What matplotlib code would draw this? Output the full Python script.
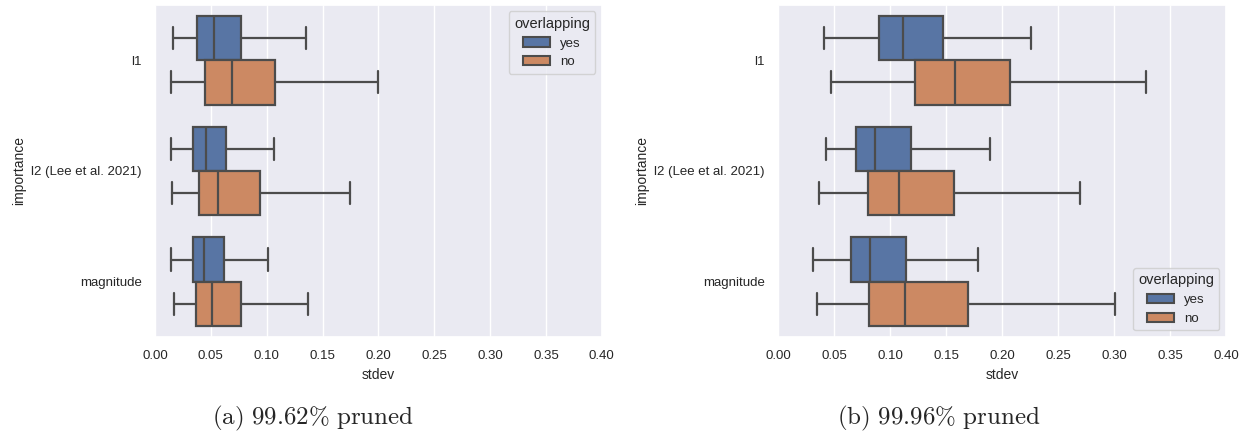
import matplotlib
matplotlib.use("Agg")
import matplotlib.pyplot as plt
import matplotlib.patches as mpatches
import seaborn as sns

sns.set_theme(style="darkgrid")
plt.rcParams['font.family'] = ['Liberation Sans', 'DejaVu Sans']
plt.rcParams['mathtext.fontset'] = 'cm'

categories = ["l1", "l2 (Lee et al. 2021)", "magnitude"]
hues = ["yes", "no"]
colors = ["#5875a4", "#cc8963"]
line_gray = "#4c4c4c"

# five-number summaries per category: (whislo, q1, med, q3, whishi)
a_yes = [(0.0161, 0.0379, 0.0528, 0.0770, 0.1351),
         (0.0140, 0.0340, 0.0456, 0.0635, 0.1068),
         (0.0140, 0.0340, 0.0442, 0.0617, 0.1008)]
a_no = [(0.0146, 0.0450, 0.0692, 0.1077, 0.1996),
        (0.0155, 0.0397, 0.0567, 0.0940, 0.1745),
        (0.0170, 0.0370, 0.0513, 0.0770, 0.1366)]
b_yes = [(0.0411, 0.0903, 0.1114, 0.1472, 0.2258),
         (0.0429, 0.0692, 0.0862, 0.1185, 0.1896),
         (0.0313, 0.0648, 0.0820, 0.1143, 0.1787)]
b_no = [(0.0476, 0.1223, 0.1579, 0.2068, 0.3287),
        (0.0363, 0.0805, 0.1081, 0.1570, 0.2700),
        (0.0345, 0.0811, 0.1137, 0.1692, 0.3006)]

xticks = [0.0, 0.05, 0.10, 0.15, 0.20, 0.25, 0.30, 0.35, 0.40]
captions = [r"$\mathrm{(a)\ 99.62\%\ pruned}$", r"$\mathrm{(b)\ 99.96\%\ pruned}$"]


def to_stats(rows):
    return [dict(whislo=r[0], q1=r[1], med=r[2], q3=r[3], whishi=r[4], fliers=[]) for r in rows]


def draw_panel(ax, yes, no, legend_loc):
    for k, (rows, col) in enumerate(zip([yes, no], colors)):
        pos = [i - 0.2 + 0.4 * k for i in range(len(categories))]
        ax.bxp(to_stats(rows), positions=pos, widths=0.4, vert=False,
               patch_artist=True, showfliers=False,
               boxprops=dict(facecolor=col, edgecolor=line_gray, linewidth=1.6),
               medianprops=dict(color=line_gray, linewidth=1.6),
               whiskerprops=dict(color=line_gray, linewidth=1.6),
               capprops=dict(color=line_gray, linewidth=1.6))
    ax.set_yticks(range(len(categories)))
    ax.set_yticklabels(categories)
    ax.set_ylim(2.5, -0.5)
    ax.set_xlim(0, 0.4)
    ax.set_xticks(xticks)
    ax.set_xticklabels([f"{t:.2f}" for t in xticks])
    ax.yaxis.grid(False)
    ax.set_xlabel("stdev", fontsize=10)
    ax.set_ylabel("importance", fontsize=10)
    ax.tick_params(labelsize=9.5)
    handles = [mpatches.Patch(facecolor=c, edgecolor=line_gray, linewidth=1.5, label=h)
               for h, c in zip(hues, colors)]
    ax.legend(handles=handles, title="overlapping", loc=legend_loc,
              fontsize=9.5, title_fontsize=10.5)


fig = plt.figure(figsize=(12.48, 4.37), dpi=100)
ax1 = fig.add_axes([0.1242, 0.2288, 0.358, 0.760])
ax2 = fig.add_axes([0.6234, 0.2288, 0.359, 0.760])
draw_panel(ax1, a_yes, a_no, "upper right")
draw_panel(ax2, b_yes, b_no, "lower right")

fig.text(0.251, 0.043, captions[0], ha="center", va="center", fontsize=18)
fig.text(0.752, 0.043, captions[1], ha="center", va="center", fontsize=18)

fig.savefig("out.png", dpi=100)
